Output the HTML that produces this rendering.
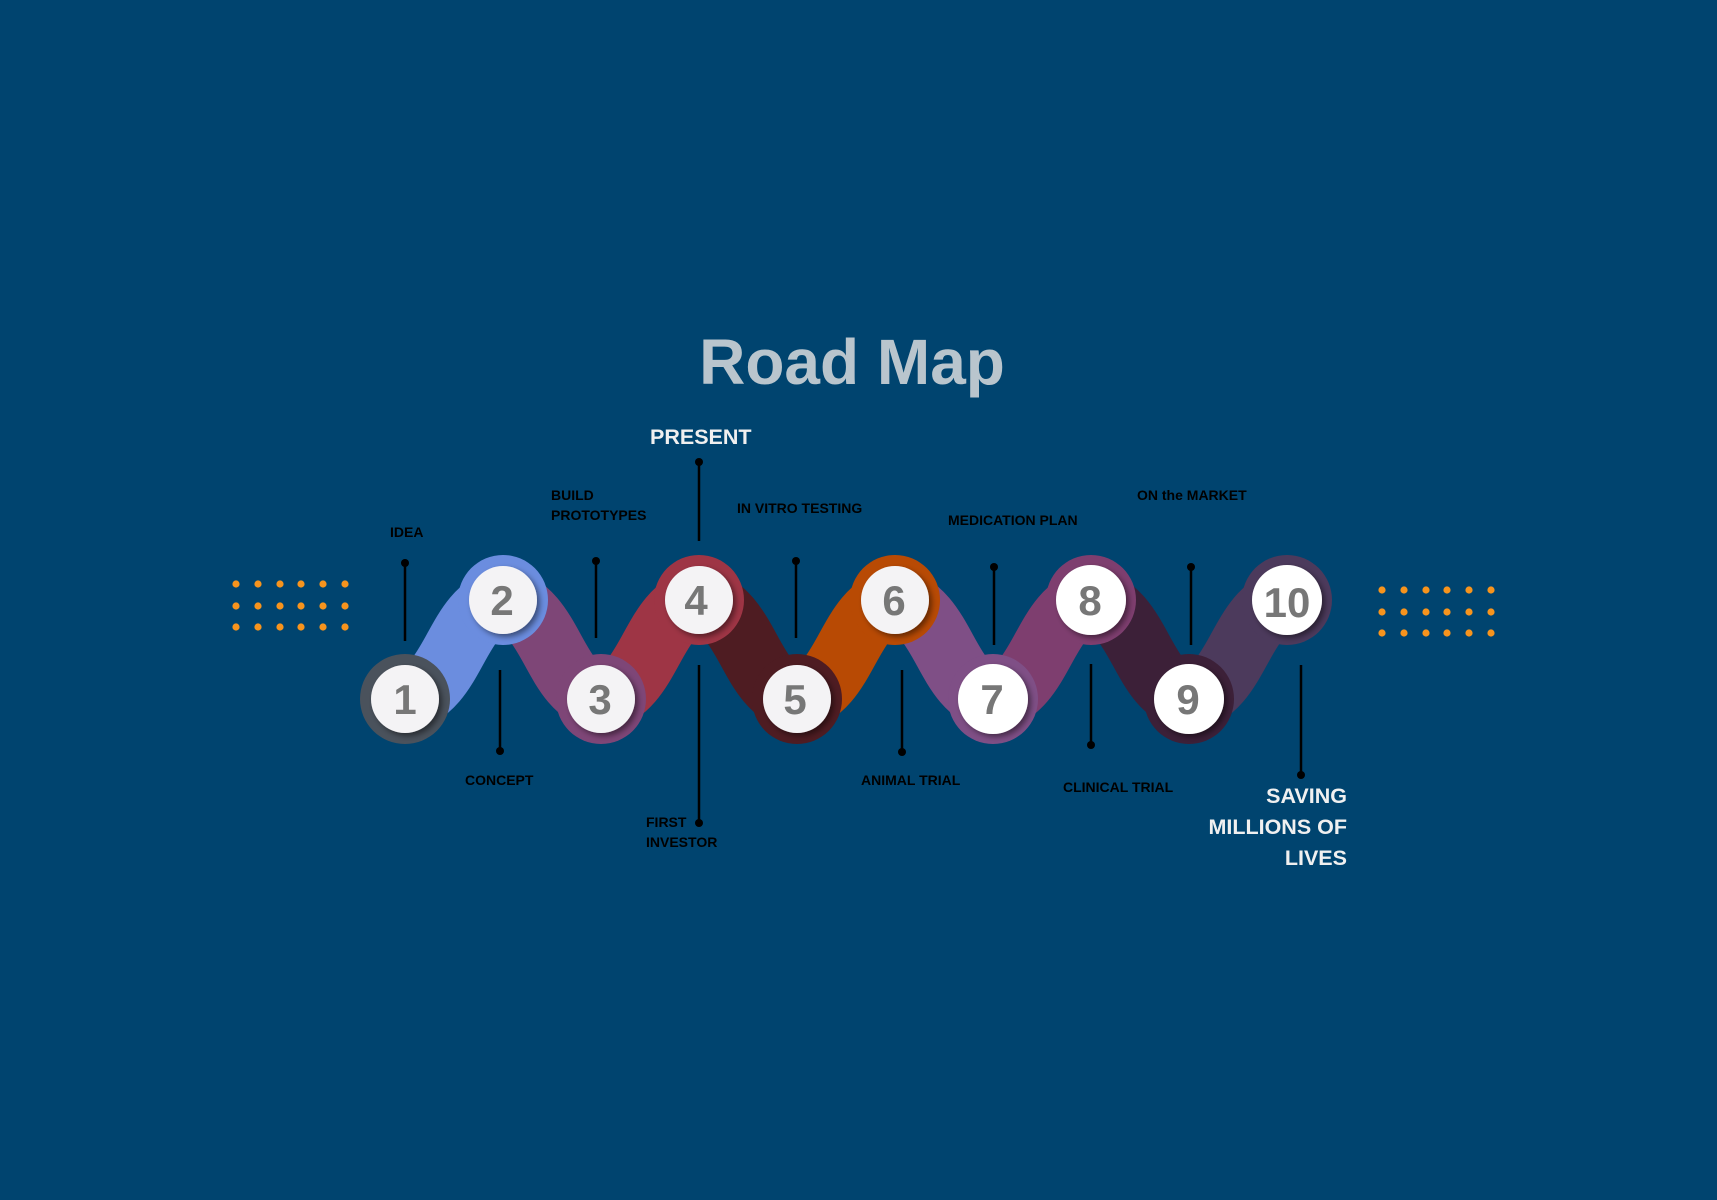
<!DOCTYPE html>
<html><head><meta charset="utf-8"><style>
html,body{margin:0;padding:0;background:#00446f;}
body{width:1717px;height:1200px;position:relative;overflow:hidden;font-family:"Liberation Sans",sans-serif;}
.t{position:absolute;font-weight:bold;font-size:14px;color:#000;line-height:20px;white-space:nowrap;}
</style></head><body>
<svg width="1717" height="1200" style="position:absolute;left:0;top:0">
<defs>
<filter id="sh" x="-30%" y="-30%" width="160%" height="160%"><feDropShadow dx="3" dy="3" stdDeviation="3" flood-color="#000" flood-opacity="0.45"/></filter>
</defs>
<text x="852" y="384" text-anchor="middle" font-family="Liberation Sans, sans-serif" font-weight="bold" font-size="64" fill="#b9c5cd">Road Map</text>
<g fill="#f7941d">
<g id="dl">
<circle cx="236" cy="584" r="3.6"/><circle cx="258" cy="584" r="3.6"/><circle cx="280" cy="584" r="3.6"/><circle cx="301" cy="584" r="3.6"/><circle cx="323" cy="584" r="3.6"/><circle cx="345" cy="584" r="3.6"/>
<circle cx="236" cy="606" r="3.6"/><circle cx="258" cy="606" r="3.6"/><circle cx="280" cy="606" r="3.6"/><circle cx="301" cy="606" r="3.6"/><circle cx="323" cy="606" r="3.6"/><circle cx="345" cy="606" r="3.6"/>
<circle cx="236" cy="627" r="3.6"/><circle cx="258" cy="627" r="3.6"/><circle cx="280" cy="627" r="3.6"/><circle cx="301" cy="627" r="3.6"/><circle cx="323" cy="627" r="3.6"/><circle cx="345" cy="627" r="3.6"/>
</g>
<use href="#dl" transform="translate(1146,6)"/>
</g>
<g stroke="#000" stroke-width="2.5" fill="#000">
<line x1="405" y1="563" x2="405" y2="641"/><circle cx="405" cy="563" r="4" stroke="none"/>
<line x1="596" y1="561" x2="596" y2="638"/><circle cx="596" cy="561" r="4" stroke="none"/>
<line x1="699" y1="462" x2="699" y2="541"/><circle cx="699" cy="462" r="4" stroke="none"/>
<line x1="796" y1="561" x2="796" y2="638"/><circle cx="796" cy="561" r="4" stroke="none"/>
<line x1="994" y1="567" x2="994" y2="645"/><circle cx="994" cy="567" r="4" stroke="none"/>
<line x1="1191" y1="567" x2="1191" y2="645"/><circle cx="1191" cy="567" r="4" stroke="none"/>
<line x1="500" y1="670" x2="500" y2="751"/><circle cx="500" cy="751" r="4" stroke="none"/>
<line x1="699" y1="665" x2="699" y2="823"/><circle cx="699" cy="823" r="4" stroke="none"/>
<line x1="902" y1="670" x2="902" y2="752"/><circle cx="902" cy="752" r="4" stroke="none"/>
<line x1="1091" y1="664" x2="1091" y2="745"/><circle cx="1091" cy="745" r="4" stroke="none"/>
<line x1="1301" y1="665" x2="1301" y2="775"/><circle cx="1301" cy="775" r="4" stroke="none"/>
</g>
<g fill="none" stroke-width="64">
<path d="M405 699 C455 690,455 610,503 600" stroke="#6b8ddf"/>
<path d="M503 600 C553 610,553 690,601 699" stroke="#7e4677"/>
<path d="M601 699 C651 690,651 610,699 600" stroke="#9e3545"/>
<path d="M699 600 C749 610,749 690,797 699" stroke="#4e1c22"/>
<path d="M797 699 C847 690,847 610,895 600" stroke="#b84a04"/>
<path d="M895 600 C945 610,945 690,993 699" stroke="#7f4f86"/>
<path d="M993 699 C1043 690,1043 610,1091 600" stroke="#7e3e6f"/>
<path d="M1091 600 C1141 610,1141 690,1189 699" stroke="#3c2038"/>
<path d="M1189 699 C1239 690,1239 610,1287 600" stroke="#4c3a5c"/>
</g>
<g>
<circle cx="405" cy="699" r="45" fill="#4a525c"/>
<circle cx="503" cy="600" r="45" fill="#6b8ddf"/>
<circle cx="601" cy="699" r="45" fill="#7e4677"/>
<circle cx="699" cy="600" r="45" fill="#9e3545"/>
<circle cx="797" cy="699" r="45" fill="#4e1c22"/>
<circle cx="895" cy="600" r="45" fill="#b84a04"/>
<circle cx="993" cy="699" r="45" fill="#7f4f86"/>
<circle cx="1091" cy="600" r="45" fill="#7e3e6f"/>
<circle cx="1189" cy="699" r="45" fill="#3c2038"/>
<circle cx="1287" cy="600" r="45" fill="#4c3a5c"/>
</g>
<g fill="#f4f3f5" filter="url(#sh)">
<circle cx="405" cy="699" r="34"/><circle cx="503" cy="600" r="34"/>
<circle cx="601" cy="699" r="34"/><circle cx="699" cy="600" r="34"/>
<circle cx="797" cy="699" r="34"/><circle cx="895" cy="600" r="34"/>
<circle cx="993" cy="699" r="35" fill="#fff"/><circle cx="1091" cy="600" r="35" fill="#fff"/>
<circle cx="1189" cy="699" r="35" fill="#fff"/><circle cx="1287" cy="600" r="35" fill="#fff"/>
</g>
<g font-family="Liberation Sans, sans-serif" font-weight="bold" font-size="42" fill="#777" text-anchor="middle">
<text x="405" y="714">1</text><text x="502" y="615">2</text>
<text x="600" y="714">3</text><text x="696" y="615">4</text>
<text x="795" y="714">5</text><text x="894" y="615">6</text>
<text x="992" y="714">7</text><text x="1090" y="615">8</text>
<text x="1188" y="714">9</text><text x="1287" y="617">10</text>
</g>
</svg>
<div class="t" style="left:650px;top:424px;font-size:21.5px;color:#f0f0f0;line-height:26px">PRESENT</div>
<div class="t" style="left:390px;top:522px">IDEA</div>
<div class="t" style="left:551px;top:485px">BUILD<br>PROTOTYPES</div>
<div class="t" style="left:737px;top:498px">IN VITRO TESTING</div>
<div class="t" style="left:948px;top:510px">MEDICATION PLAN</div>
<div class="t" style="left:1137px;top:485px">ON the MARKET</div>
<div class="t" style="left:465px;top:770px">CONCEPT</div>
<div class="t" style="left:646px;top:812px">FIRST<br>INVESTOR</div>
<div class="t" style="left:861px;top:770px">ANIMAL TRIAL</div>
<div class="t" style="left:1063px;top:777px">CLINICAL TRIAL</div>
<div class="t" style="right:370px;top:781px;font-size:21.5px;color:#f0f0f0;line-height:31px;text-align:right">SAVING<br>MILLIONS OF<br>LIVES</div>
</body></html>
